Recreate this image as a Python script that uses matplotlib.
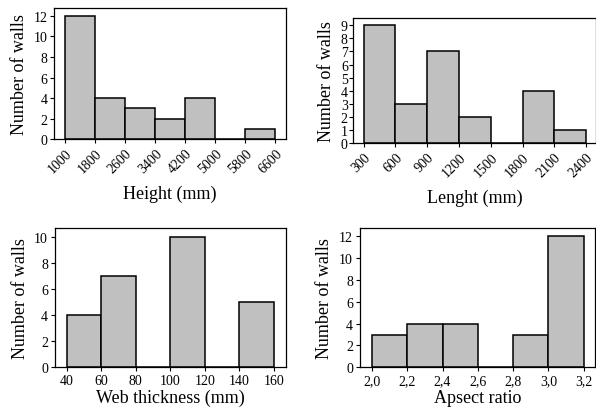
import numpy as np
import matplotlib
matplotlib.use("Agg")
import matplotlib.pyplot as plt

plt.rcParams['font.family'] = ['Liberation Serif', 'DejaVu Serif']

# histogram bin edges and counts for each wall property
height_edges = [1000, 1800, 2600, 3400, 4200, 5000, 5800, 6600]
height_counts = [12, 4, 3, 2, 4, 0, 1]

length_edges = [300, 600, 900, 1200, 1500, 1800, 2100, 2400]
length_counts = [9, 3, 7, 2, 0, 4, 1]

web_edges = [40, 60, 80, 100, 120, 140, 160]
web_counts = [4, 7, 0, 10, 0, 5]

ratio_edges = [2.0, 2.2, 2.4, 2.6, 2.8, 3.0, 3.2]
ratio_counts = [3, 4, 4, 0, 3, 12]

fig = plt.figure(figsize=(5.96, 4.10), dpi=100)

ax1 = fig.add_axes([0.0911, 0.6578, 0.3883, 0.3202])
ax2 = fig.add_axes([0.5928, 0.6488, 0.4072, 0.3049])
ax3 = fig.add_axes([0.0923, 0.1017, 0.3871, 0.3390])
ax4 = fig.add_axes([0.6040, 0.1017, 0.3948, 0.3398])


def hist_bars(ax, edges, counts):
    edges = np.asarray(edges, dtype=float)
    ax.bar(edges[:-1], counts, width=np.diff(edges), align='edge',
           color='#c0c0c0', edgecolor='black', linewidth=1.1)
    ax.set_xticks(edges)
    ax.set_ylabel('Number of walls', fontsize=13)
    ax.tick_params(direction='out', length=3, width=0.8, labelsize=10, pad=2)
    for s in ax.spines.values():
        s.set_linewidth(0.9)


hist_bars(ax1, height_edges, height_counts)
ax1.set_xlim(707, 6877)
ax1.set_ylim(0, 12.75)
ax1.set_yticks(range(0, 13, 2))
ax1.set_xticklabels([str(v) for v in height_edges], rotation=45,
                    ha='right', rotation_mode='anchor')
ax1.set_xlabel('Height (mm)', fontsize=13, labelpad=7)

hist_bars(ax2, length_edges, length_counts)
ax2.set_xlim(202, 2494)
ax2.set_ylim(0, 9.56)
ax2.set_yticks(range(0, 10))
ax2.set_xticklabels([str(v) for v in length_edges], rotation=45,
                    ha='right', rotation_mode='anchor')
ax2.set_xlabel('Lenght (mm)', fontsize=13, labelpad=7)
ax2.tick_params(axis='y', pad=1)

hist_bars(ax3, web_edges, web_counts)
ax3.set_xlim(33.2, 167)
ax3.set_ylim(0, 10.64)
ax3.set_yticks(range(0, 11, 2))
ax3.set_xlabel('Web thickness (mm)', fontsize=13, labelpad=1)

hist_bars(ax4, ratio_edges, ratio_counts)
ax4.set_xlim(1.932, 3.266)
ax4.set_ylim(0, 12.76)
ax4.set_yticks(range(0, 13, 2))
ax4.set_xticklabels([f'{v:.1f}'.replace('.', ',') for v in ratio_edges])
ax4.set_xlabel('Apsect ratio', fontsize=13, labelpad=1)

fig.savefig('out.png', dpi=100)
